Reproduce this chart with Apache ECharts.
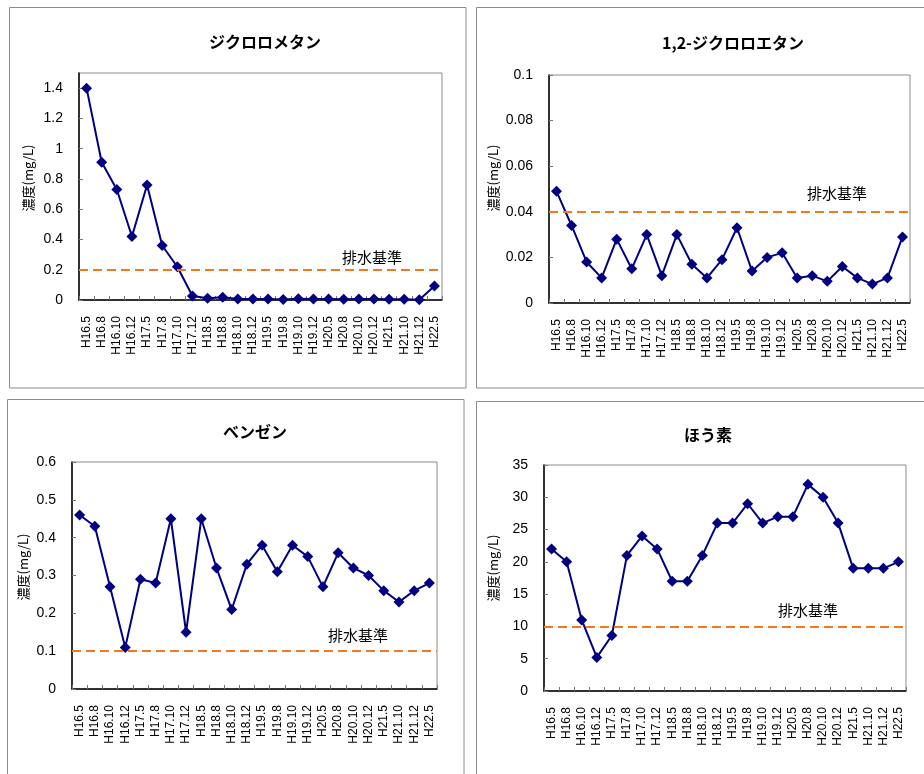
<!DOCTYPE html>
<html>
<head>
<meta charset="utf-8">
<script src="https://cdn.jsdelivr.net/npm/echarts@6/dist/echarts.min.js"></script>
<style>
html,body{margin:0;padding:0;background:#fff;}
#c{width:924px;height:774px;}
</style>
</head>
<body>
<div id="c"></div>
<script>
const categories = ['H16.5','H16.8','H16.10','H16.12','H17.5','H17.8','H17.10','H17.12','H18.5','H18.8','H18.10','H18.12','H19.5','H19.8','H19.10','H19.12','H20.5','H20.8','H20.10','H20.12','H21.5','H21.10','H21.12','H22.5'];

const titles = ['ジクロロメタン','1,2-ジクロロエタン','ベンゼン','ほう素'];

const dichloromethane = [1.40,0.91,0.73,0.42,0.76,0.36,0.22,0.026,0.011,0.018,0.007,0.007,0.006,0.003,0.008,0.007,0.006,0.005,0.006,0.006,0.005,0.005,0.002,0.093];
const dichloroethane = [0.049,0.034,0.018,0.011,0.028,0.015,0.030,0.012,0.030,0.017,0.011,0.019,0.033,0.014,0.020,0.022,0.011,0.012,0.0095,0.016,0.011,0.0083,0.011,0.029];
const benzene = [0.46,0.43,0.27,0.11,0.29,0.28,0.45,0.15,0.45,0.32,0.21,0.33,0.38,0.31,0.38,0.35,0.27,0.36,0.32,0.30,0.26,0.23,0.26,0.28];
const boron = [22,20,11,5.2,8.6,21,24,22,17,17,21,26,26,29,26,27,27,32,30,26,19,19,19,20];

const standards = [0.2,0.04,0.1,10];
const standardLabel = '排水基準';
const yName = '濃度(mg/L)';
const yMax = [1.5,0.1,0.6,35];
const yInterval = [0.2,0.02,0.1,5];

const seriesValues = [dichloromethane, dichloroethane, benzene, boron];

// layout (pixels)
const grids = [
  {left:79, top:73, width:363, height:227},
  {left:549, top:75, width:361, height:228},
  {left:72, top:462, width:365, height:227},
  {left:544, top:465, width:362, height:226}
];
const frames = [
  {x:9.5, y:7.5, w:456.5, h:380.5},
  {x:476.5, y:7.5, w:460, h:380.5},
  {x:7.5, y:399.5, w:456.5, h:390},
  {x:476.5, y:401.5, w:460, h:390}
];
const titlePos = [[265,42],[733,43],[255,432],[708,435]];
const namePos = [[28,178],[493,178],[23,567],[493,568]];
const stdLabelPos = [[342,257],[807,193],[328,635],[778,610]];

const FONT = '"Liberation Sans", "Noto Sans CJK JP", sans-serif';
const JFONT = '"Noto Sans CJK JP", "Liberation Sans", sans-serif';

const graphic = [];
frames.forEach(f => graphic.push({type:'rect', shape:{x:f.x,y:f.y,width:f.w,height:f.h}, style:{fill:'none', stroke:'#8c8c8c', lineWidth:1}, silent:true}));
titlePos.forEach((p,i) => graphic.push({type:'text', x:p[0], y:p[1], style:{text:titles[i], fontSize:16, fontFamily:JFONT, fontWeight:'bold', fill:'#000', align:'center', verticalAlign:'middle'}, silent:true}));
namePos.forEach((p,i) => graphic.push({type:'text', x:p[0], y:p[1], rotation:Math.PI/2, style:{text:yName, fontSize:13, fontFamily:JFONT, fill:'#000', align:'center', verticalAlign:'middle'}, silent:true}));
stdLabelPos.forEach((p,i) => graphic.push({type:'text', x:p[0], y:p[1], style:{text:standardLabel, fontSize:15, fontFamily:JFONT, fill:'#000', align:'left', verticalAlign:'middle'}, silent:true}));

const option = {
  animation:false,
  backgroundColor:'#fff',
  graphic: graphic,
  grid: grids.map(g => Object.assign({show:true, borderColor:'#8c8c8c', borderWidth:1, backgroundColor:'rgba(0,0,0,0)'}, g)),
  xAxis: grids.map((g,i) => ({
    type:'category', gridIndex:i, data:categories, boundaryGap:true,
    axisLine:{show:true, lineStyle:{color:'#000', width:1.5}},
    axisTick:{show:true, inside:true, length:4, interval:0, lineStyle:{color:'#777'}},
    axisLabel:{rotate:90, interval:0, fontSize:12, color:'#000', margin:16, fontFamily:FONT},
    splitLine:{show:false}
  })),
  yAxis: grids.map((g,i) => ({
    type:'value', gridIndex:i, min:0, max:yMax[i], interval:yInterval[i],
    axisLine:{show:true, lineStyle:{color:'#000', width:1.5}},
    axisTick:{show:true, inside:true, length:4, lineStyle:{color:'#777'}},
    axisLabel:{fontSize:14, color:'#000', margin:16, fontFamily:FONT, showMaxLabel: i===0 ? false : true},
    splitLine:{show:false}
  })),
  series: []
};

seriesValues.forEach((vals,i) => {
  option.series.push({
    type:'line', xAxisIndex:i, yAxisIndex:i, data:[], silent:true,
    markLine:{silent:true, symbol:'none', label:{show:false},
      lineStyle:{color:'#EE7A22', type:[9,5], width:2},
      data:[{yAxis:standards[i]}]}
  });
  option.series.push({
    type:'line', xAxisIndex:i, yAxisIndex:i, data:vals,
    symbol:'diamond', symbolSize:11,
    itemStyle:{color:'#000080'},
    lineStyle:{color:'#000080', width:2}
  });
});

const chart = echarts.init(document.getElementById('c'));
chart.setOption(option);
</script>
</body>
</html>
